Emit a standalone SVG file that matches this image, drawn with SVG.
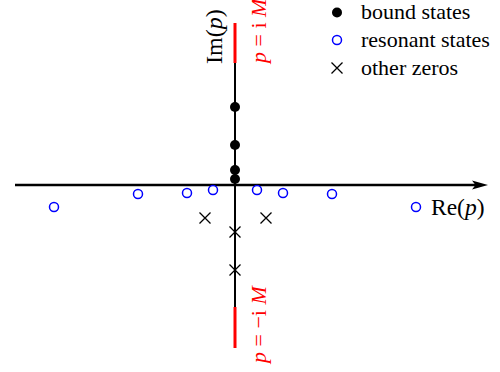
<svg xmlns="http://www.w3.org/2000/svg" width="500" height="372" viewBox="0 0 500 372">
<style>
text{font-family:"Liberation Serif","Times New Roman",serif;fill:#000}
.red{fill:#ff0000}
.res{fill:#fff;stroke:#0000ff;stroke-width:1.5}
.bnd{fill:#000}
.x{stroke:#000;stroke-width:1.3;fill:none}
</style>
<defs>
<path id="cross" d="M-5.5,-5.5L5.5,5.5M-5.5,5.5L5.5,-5.5"/>
</defs>
<rect width="500" height="372" fill="#fff"/>
<g id="connectors">
<line x1="15" y1="185" x2="477" y2="185" stroke="#000" stroke-width="2.5"/>
<path d="M488,185 L472,180.5 L475.5,185 L472,189.5 Z" fill="#000"/>
<line x1="235" y1="63" x2="235" y2="307" stroke="#000" stroke-width="2"/>
<line x1="235" y1="23" x2="235" y2="63" stroke="#ff0000" stroke-width="3"/>
<line x1="235" y1="307" x2="235" y2="348" stroke="#ff0000" stroke-width="3"/>
</g>
<g id="labels">
<text transform="translate(222,64) rotate(-90)" font-size="24">Im(<tspan font-style="italic">p</tspan>)</text>
<text x="431" y="215" font-size="23.5">Re(<tspan font-style="italic">p</tspan>)</text>
<text class="red" transform="translate(266,63) rotate(-90)" font-size="22"><tspan font-style="italic">p</tspan> = i <tspan font-style="italic">M</tspan></text>
<text class="red" transform="translate(266,363) rotate(-90)" font-size="22"><tspan font-style="italic">p</tspan> = −i <tspan font-style="italic">M</tspan></text>
</g>
<g id="bound-states">
<circle class="bnd" cx="235" cy="107" r="5"/>
<circle class="bnd" cx="235" cy="145" r="5"/>
<circle class="bnd" cx="235" cy="170" r="5"/>
<circle class="bnd" cx="235" cy="179" r="5"/>
</g>
<g id="resonant-states">
<circle class="res" cx="54" cy="207" r="4.5"/>
<circle class="res" cx="138" cy="194" r="4.5"/>
<circle class="res" cx="187" cy="193" r="4.5"/>
<circle class="res" cx="213" cy="190" r="4.5"/>
<circle class="res" cx="257" cy="190" r="4.5"/>
<circle class="res" cx="283" cy="193" r="4.5"/>
<circle class="res" cx="332" cy="194" r="4.5"/>
<circle class="res" cx="416" cy="207" r="4.5"/>
</g>
<g id="other-zeros">
<use href="#cross" class="x" transform="translate(205,218)"/>
<use href="#cross" class="x" transform="translate(266,218)"/>
<use href="#cross" class="x" transform="translate(235,232)"/>
<use href="#cross" class="x" transform="translate(235,270)"/>
</g>
<g id="legend">
<circle class="bnd" cx="337" cy="12.5" r="5"/>
<text x="361" y="19" font-size="22">bound states</text>
<circle class="res" cx="337" cy="40" r="4.5"/>
<text x="361" y="47" font-size="22">resonant states</text>
<use href="#cross" class="x" transform="translate(337,68)"/>
<text x="361" y="75" font-size="22">other zeros</text>
</g>
</svg>
